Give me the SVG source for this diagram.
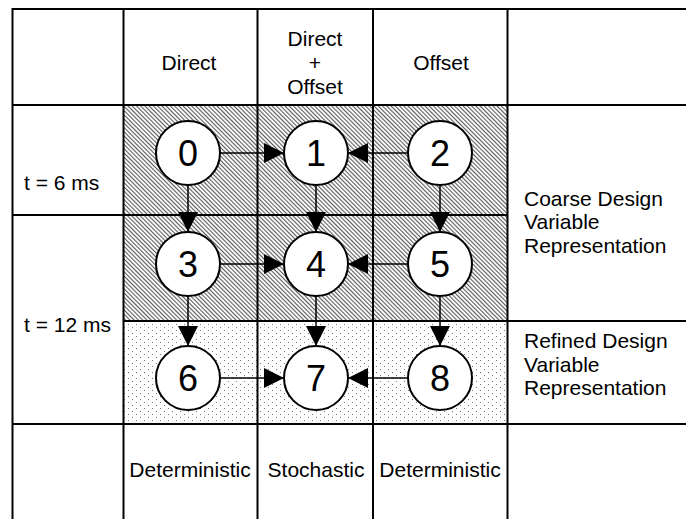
<svg xmlns="http://www.w3.org/2000/svg" width="686" height="519" viewBox="0 0 686 519">
  <style>
    .grid { stroke: #000; stroke-width: 2; fill: none; }
    .lbl { font-family: "Liberation Sans", Arial, sans-serif; font-size: 21px; fill: #000; }
    .mid { text-anchor: middle; }
    .node circle { fill: #fff; stroke: #000; stroke-width: 2; }
    .node text { font-family: "Liberation Sans", Arial, sans-serif; font-size: 36px; text-anchor: middle; fill: #000; }
    .edge { stroke: #000; stroke-width: 1.5; fill: none; marker-end: url(#arrow); }
  </style>
  <defs>
    <!-- fine diagonal hatch for the coarse region -->
    <pattern id="hatch" width="3" height="3" patternUnits="userSpaceOnUse" patternTransform="rotate(-45)">
      <rect width="3" height="3" fill="#fff"/>
      <rect width="1.1" height="3" fill="#5a5a5a"/>
    </pattern>
    <!-- sparse dots for the refined region -->
    <pattern id="dots" width="8" height="6" patternUnits="userSpaceOnUse">
      <rect width="8" height="6" fill="#fff"/>
      <rect x="0" y="0" width="1" height="1" fill="#777"/>
      <rect x="4" y="3" width="1" height="1" fill="#777"/>
    </pattern>
    <marker id="arrow" markerUnits="userSpaceOnUse" markerWidth="20" markerHeight="20" refX="20" refY="10" orient="auto">
      <path d="M0,0 L20,10 L0,20 Z" fill="#000"/>
    </marker>
  </defs>

  <rect width="686" height="519" fill="#fff"/>

  <!-- shaded bands -->
  <rect x="123.5" y="105" width="384" height="216" fill="url(#hatch)"/>
  <rect x="123.5" y="321" width="384" height="103" fill="url(#dots)"/>

  <!-- table rules -->
  <g id="table" class="grid">
    <line x1="12.5" y1="9" x2="686" y2="9"/>
    <line x1="12.5" y1="105" x2="686" y2="105"/>
    <line x1="12.5" y1="215" x2="507.5" y2="215"/>
    <line x1="123.5" y1="321" x2="686" y2="321"/>
    <line x1="12.5" y1="424" x2="686" y2="424"/>
    <line x1="12.5" y1="8" x2="12.5" y2="519"/>
    <line x1="123.5" y1="9" x2="123.5" y2="519"/>
    <line x1="257.5" y1="9" x2="257.5" y2="519"/>
    <line x1="373" y1="9" x2="373" y2="519"/>
    <line x1="507.5" y1="9" x2="507.5" y2="519"/>
  </g>

  <!-- column headers -->
  <g id="headers" class="lbl mid">
    <text x="189" y="70">Direct</text>
    <text x="315" y="46">Direct</text>
    <text x="315" y="70">+</text>
    <text x="315" y="94">Offset</text>
    <text x="441" y="70">Offset</text>
  </g>

  <!-- row labels -->
  <g id="rows" class="lbl">
    <text x="24" y="190">t = 6 ms</text>
    <text x="24" y="332">t = 12 ms</text>
    <text x="524" y="206">Coarse Design</text>
    <text x="524" y="229">Variable</text>
    <text x="524" y="253">Representation</text>
    <text x="524" y="348">Refined Design</text>
    <text x="524" y="372">Variable</text>
    <text x="524" y="395">Representation</text>
  </g>

  <!-- column footers -->
  <g id="footers" class="lbl mid">
    <text x="190" y="477">Deterministic</text>
    <text x="316" y="477">Stochastic</text>
    <text x="440" y="477">Deterministic</text>
  </g>

  <!-- connectors -->
  <g id="connectors">
    <line class="edge" x1="220" y1="153" x2="284" y2="153"/>
    <line class="edge" x1="408" y1="153" x2="348" y2="153"/>
    <line class="edge" x1="220" y1="264" x2="284" y2="264"/>
    <line class="edge" x1="408" y1="264" x2="348" y2="264"/>
    <line class="edge" x1="220" y1="378" x2="284" y2="378"/>
    <line class="edge" x1="408" y1="378" x2="348" y2="378"/>
    <line class="edge" x1="188" y1="185" x2="188" y2="232"/>
    <line class="edge" x1="316" y1="185" x2="316" y2="232"/>
    <line class="edge" x1="440" y1="185" x2="440" y2="232"/>
    <line class="edge" x1="188" y1="296" x2="188" y2="346"/>
    <line class="edge" x1="316" y1="296" x2="316" y2="346"/>
    <line class="edge" x1="440" y1="296" x2="440" y2="346"/>
  </g>

  <!-- nodes -->
  <g id="n0" class="node"><circle cx="188" cy="153" r="32"/><text x="188" y="166">0</text></g>
  <g id="n1" class="node"><circle cx="316" cy="153" r="32"/><text x="316" y="166">1</text></g>
  <g id="n2" class="node"><circle cx="440" cy="153" r="32"/><text x="440" y="166">2</text></g>
  <g id="n3" class="node"><circle cx="188" cy="264" r="32"/><text x="188" y="277">3</text></g>
  <g id="n4" class="node"><circle cx="316" cy="264" r="32"/><text x="316" y="277">4</text></g>
  <g id="n5" class="node"><circle cx="440" cy="264" r="32"/><text x="440" y="277">5</text></g>
  <g id="n6" class="node"><circle cx="188" cy="378" r="32"/><text x="188" y="391">6</text></g>
  <g id="n7" class="node"><circle cx="316" cy="378" r="32"/><text x="316" y="391">7</text></g>
  <g id="n8" class="node"><circle cx="440" cy="378" r="32"/><text x="440" y="391">8</text></g>
</svg>
